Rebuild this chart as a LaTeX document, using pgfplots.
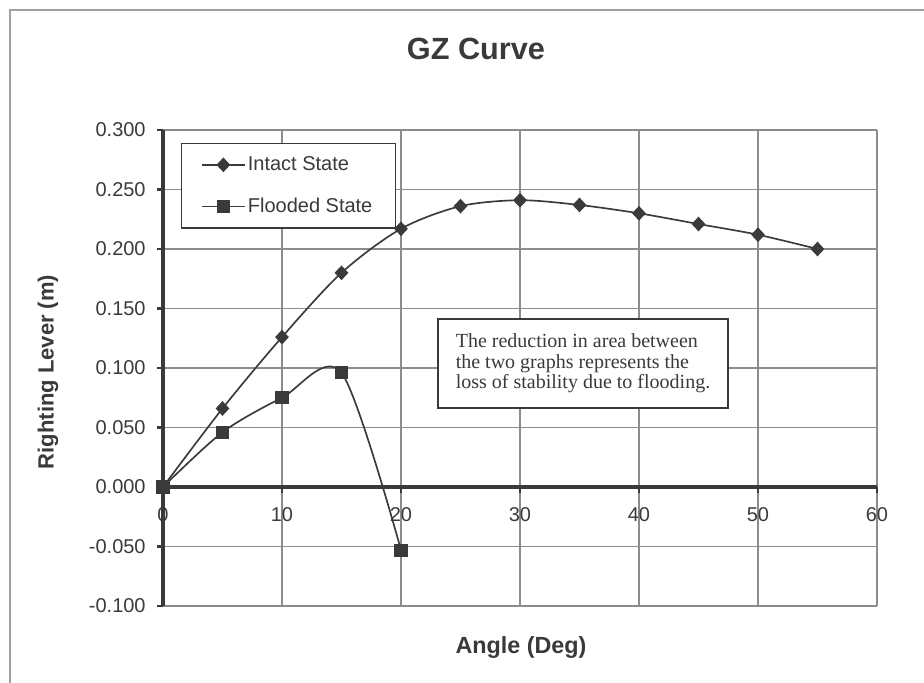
\documentclass[border=0pt]{standalone}
\usepackage{fontspec}
\setmainfont{Liberation Sans}
\newfontfamily\notefont{Liberation Serif}
\usepackage{pgfplots}
\pgfplotsset{compat=1.18}
\definecolor{ink}{HTML}{3A3A3A}
\definecolor{gridc}{HTML}{8C8C8C}
\definecolor{framec}{HTML}{A0A0A0}

\begin{document}
\begin{tikzpicture}
\useasboundingbox (0pt,0pt) rectangle (693pt,-511.5pt);
\draw[framec, line width=1.1pt] (7.5pt,-530pt) -- (7.5pt,-7.5pt) -- (710pt,-7.5pt);
\node[font=\fontsize{23}{27}\selectfont\bfseries, text=ink, anchor=base] at (357pt,-44.25pt) {GZ Curve};
\begin{axis}[
  at={(122.25pt,-454.5pt)}, anchor=south west,
  width=535.5pt, height=357pt, scale only axis,
  xmin=0, xmax=60, ymin=-0.1, ymax=0.3,
  axis x line*=middle, axis y line*=left,
  hide obscured x ticks=false,
  axis line style={ink, line width=3pt},
  xtick={0,10,20,30,40,50,60},
  ytick={-0.1,-0.05,0,0.05,0.1,0.15,0.2,0.25,0.3},
  grid=major,
  grid style={gridc, line width=1pt},
  tick align=outside,
  major tick length=4.5pt,
  tick style={ink, line width=2pt},
  /pgf/number format/assume math mode=true,
  tick label style={font=\fontsize{15}{18}\selectfont, text=ink},
  xticklabel style={yshift=-7pt},
  yticklabel style={xshift=-5pt, /pgf/number format/.cd, fixed, fixed zerofill, precision=3},
  clip=false,
  legend style={at={(0.0252,0.9727)}, anchor=north west,
    draw=ink, line width=0.8pt, fill=white,
    font=\fontsize{15}{18}\selectfont, text=ink,
    inner xsep=15pt, inner ysep=8pt, row sep=15pt},
  legend cell align=left,
  legend image code/.code={\draw[mark repeat=2,mark phase=2,#1] plot coordinates {(0pt,0pt) (15.75pt,0pt) (31.5pt,0pt)};},
]
\addplot[ink, line width=1.25pt, smooth, mark=diamond*, mark size=4.6pt, mark options={fill=ink, solid, xscale=1.25}]
  coordinates {(0,0) (5,0.066) (10,0.126) (15,0.180) (20,0.217) (25,0.236) (30,0.241) (35,0.237) (40,0.230) (45,0.221) (50,0.212) (55,0.200)};
\addlegendentry{Intact State}
\addplot[ink, line width=1.25pt, smooth, mark=square*, mark size=4.3pt, mark options={fill=ink, solid}]
  coordinates {(0,0) (5,0.046) (10,0.075) (15,0.096) (20,-0.053)};
\addlegendentry{Flooded State}
\end{axis}
\node[draw=ink, line width=0.8pt, fill=white, text=ink, minimum width=217.5pt, inner ysep=6pt,
  minimum height=66.75pt, align=left, font=\notefont\fontsize{15}{15.2}\selectfont] at (437.25pt,-272.6pt)
  {The reduction in area between\\the two graphs represents the\\loss of stability due to flooding.};
\node[font=\fontsize{17.5}{20}\selectfont\bfseries, text=ink, anchor=base] at (390.75pt,-489.75pt) {Angle (Deg)};
\node[font=\fontsize{16.5}{20}\selectfont\bfseries, text=ink, rotate=90] at (36pt,-279pt) {Righting Lever (m)};
\end{tikzpicture}
\end{document}
